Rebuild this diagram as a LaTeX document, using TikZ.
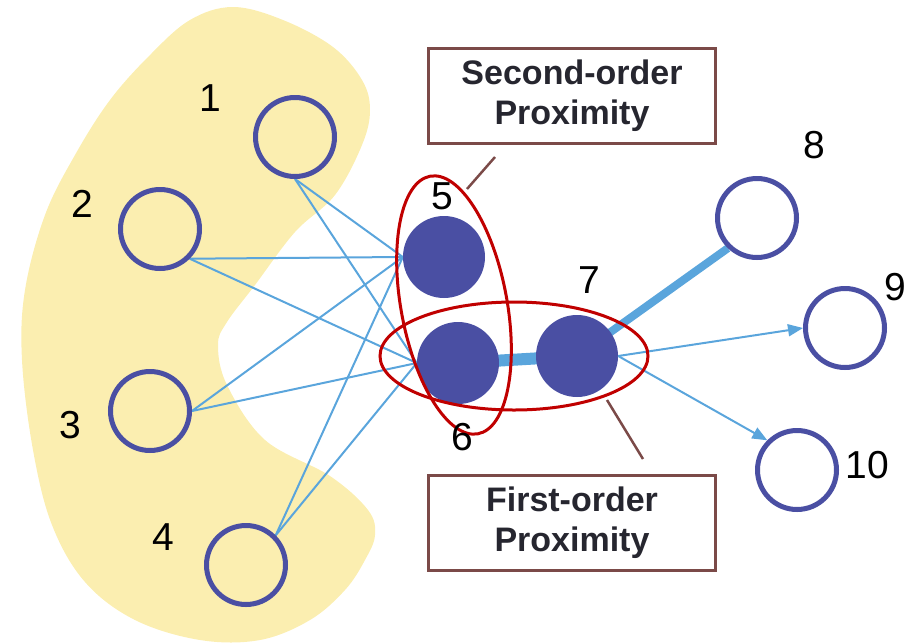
\documentclass[tikz,border=0pt]{standalone}
\usepackage{fontspec}
\setmainfont{Liberation Sans}
\usetikzlibrary{arrows.meta}
\pgfdeclarelayer{bg}
\pgfdeclarelayer{edges}
\pgfsetlayers{bg,edges,main}
\definecolor{blob}{HTML}{FBEEB0}
\definecolor{nodeblue}{HTML}{4A4FA3}
\definecolor{edgeblue}{HTML}{5AA5DC}
\definecolor{ellred}{HTML}{C00000}
\definecolor{boxbrown}{HTML}{7B4A48}
\definecolor{txtdark}{HTML}{26262F}
\begin{document}
\begin{tikzpicture}[x=1pt,y=-1pt,
  opencirc/.style={circle,draw=nodeblue,line width=5pt,minimum size=79pt,inner sep=0pt},
  fullcirc/.style={circle,fill=nodeblue,minimum size=82pt,inner sep=0pt},
  lbl/.style={font=\fontsize{39}{39}\selectfont,inner sep=0pt},
  thinedge/.style={draw=edgeblue,line width=2pt},
  tipedge/.style={thinedge,-{Triangle[length=15pt,width=12pt]}},
  ell/.style={draw=ellred,line width=3pt},
  box/.style={draw=boxbrown,line width=3pt,minimum width=287pt,minimum height=95pt,
    align=center,font=\bfseries\fontsize{34}{40}\selectfont,text=txtdark,inner sep=0pt},
  leader/.style={draw=boxbrown,line width=2.5pt}]
\useasboundingbox (0,0) rectangle (907,643);
\begin{pgfonlayer}{bg}
\fill[blob] plot[smooth cycle, tension=0.6] coordinates {
 (233,7) (283,20) (333,47) (362,80) (370,110) (362,145) (335,195) (295,232)
 (255,285) (227,322) (218,345) (227,385) (265,440) (330,476) (368,510)
 (375,535) (365,560) (345,590) (310,620) (260,640) (200,640) (135,620)
 (85,582) (52,525) (33,450) (22,360) (25,290) (45,215) (75,155) (110,100)
 (150,55) (190,20)};
\end{pgfonlayer}
% nodes
\node[opencirc] (n1) at (295,137) {};
\node[opencirc] (n2) at (160,229) {};
\node[opencirc] (n3) at (150,411) {};
\node[opencirc] (n4) at (246,565) {};
\node[fullcirc] (n5) at (444,257) {};
\node[fullcirc] (n6) at (458,363) {};
\node[fullcirc] (n7) at (577,356) {};
\node[opencirc] (n8) at (757,218) {};
\node[opencirc] (n9) at (845,328) {};
\node[opencirc] (n10) at (797,470) {};
% edges
\begin{pgfonlayer}{edges}
\draw[thinedge] (n1.south) -- (n5.west);
\draw[thinedge] (n1.south) -- (n6.west);
\draw[thinedge] (n2.-45) -- (n5.west);
\draw[thinedge] (n2.-45) -- (n6.west);
\draw[thinedge] (n3.east) -- (n5.west);
\draw[thinedge] (n3.east) -- (n6.west);
\draw[thinedge] (n4.45) -- (n5.west);
\draw[thinedge] (n4.45) -- (n6.west);
\draw[draw=edgeblue,line width=12pt] (n6.center) -- (n7.center);
\draw[draw=edgeblue,line width=8pt] (n7.center) -- (n8.-134);
\end{pgfonlayer}
\draw[tipedge] (n7.east) -- (n9.west);
\draw[tipedge] (n7.east) -- (n10.135);
% ellipses
\draw[ell,rotate around={10.5:(454,305)}] (454,305) ellipse (53pt and 131pt);
\draw[ell] (514,356) ellipse (134pt and 54pt);
% boxes
\node[box] (b1) at (572,96) {Second-order\\Proximity};
\node[box] (b2) at (572,523) {First-order\\Proximity};
\coordinate (s1a) at (495,157);
\coordinate (s1b) at (467,189);
\coordinate (s2a) at (607,400);
\coordinate (s2b) at (643,459);
\draw[leader] (s1a) -- (s1b);
\draw[leader] (s2a) -- (s2b);
% labels
\node[lbl] (l1) at (210,98) {1};
\node[lbl] (l2) at (82,204) {2};
\node[lbl] (l3) at (70,425) {3};
\node[lbl] (l4) at (163,537) {4};
\node[lbl] (l5) at (442,196) {5};
\node[lbl] (l6) at (462,437) {6};
\node[lbl] (l7) at (589,280) {7};
\node[lbl] (l8) at (814,145) {8};
\node[lbl] (l9) at (895,287) {9};
\node[lbl] (l10) at (867,465) {10};
\end{tikzpicture}
\end{document}
